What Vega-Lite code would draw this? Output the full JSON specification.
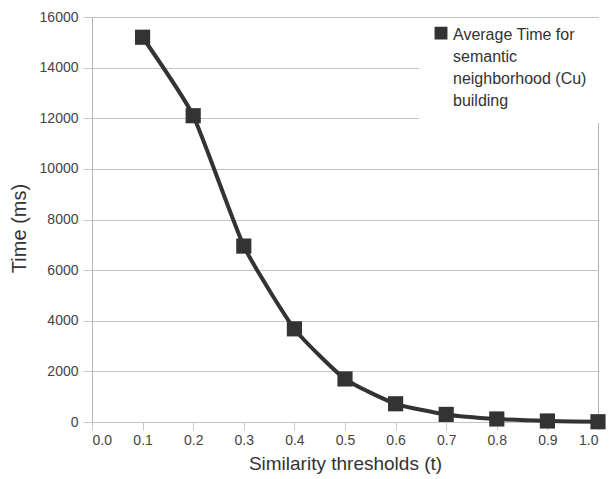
{
  "$schema": "https://vega.github.io/schema/vega-lite/v6.json",
  "width": 506,
  "height": 405,
  "autosize": {"type": "none"},
  "padding": {"left": 92, "top": 17, "right": 12, "bottom": 57},
  "background": "white",
  "data": {
    "values": [
      {"t": 0.1, "ms": 15200, "series": "Average Time for semantic neighborhood (Cu) building"},
      {"t": 0.2, "ms": 12100, "series": "Average Time for semantic neighborhood (Cu) building"},
      {"t": 0.3, "ms": 6950, "series": "Average Time for semantic neighborhood (Cu) building"},
      {"t": 0.4, "ms": 3680, "series": "Average Time for semantic neighborhood (Cu) building"},
      {"t": 0.5, "ms": 1700, "series": "Average Time for semantic neighborhood (Cu) building"},
      {"t": 0.6, "ms": 720, "series": "Average Time for semantic neighborhood (Cu) building"},
      {"t": 0.7, "ms": 300, "series": "Average Time for semantic neighborhood (Cu) building"},
      {"t": 0.8, "ms": 120, "series": "Average Time for semantic neighborhood (Cu) building"},
      {"t": 0.9, "ms": 40, "series": "Average Time for semantic neighborhood (Cu) building"},
      {"t": 1.0, "ms": 10, "series": "Average Time for semantic neighborhood (Cu) building"}
    ]
  },
  "encoding": {
    "x": {
      "field": "t",
      "type": "quantitative",
      "scale": {"domain": [0, 1], "nice": false, "zero": false},
      "axis": {
        "title": "Similarity thresholds (t)",
        "values": [0, 0.1, 0.2, 0.3, 0.4, 0.5, 0.6, 0.7, 0.8, 0.9, 1.0],
        "format": ".1f",
        "grid": false,
        "domain": false,
        "tickColor": "#c8c8c8",
        "tickSize": 8,
        "labelPadding": 3,
        "titleFontSize": 19,
        "titlePadding": 7
      }
    },
    "y": {
      "field": "ms",
      "type": "quantitative",
      "scale": {"domain": [0, 16000], "nice": false},
      "axis": {
        "title": "Time (ms)",
        "values": [0, 2000, 4000, 6000, 8000, 10000, 12000, 14000, 16000],
        "format": "d",
        "grid": true,
        "gridColor": "#c4c4c4",
        "domainColor": "#b4b4b4",
        "tickColor": "#c8c8c8",
        "tickSize": 9,
        "labelPadding": 5,
        "titleFontSize": 20,
        "titlePadding": 10,
        "titleY": 211
      }
    }
  },
  "layer": [
    {
      "mark": {"type": "line", "interpolate": "cardinal", "tension": 0.5, "color": "#333333", "strokeWidth": 4}
    },
    {
      "mark": {"type": "point", "shape": "square", "filled": true, "size": 230, "opacity": 1},
      "encoding": {
        "color": {
          "field": "series",
          "type": "nominal",
          "scale": {"range": ["#333333"]},
          "legend": {
            "title": null,
            "orient": "none",
            "legendX": 327,
            "legendY": 1,
            "fillColor": "white",
            "padding": 14,
            "symbolType": "M-1,-2.2H1V-0.2H-1Z",
            "symbolSize": 130,
            "symbolFillColor": "#333333",
            "symbolStrokeColor": "#333333",
            "labelBaseline": "alphabetic",
            "labelOffset": 4,
            "labelLimit": 300,
            "labelExpr": "['Average Time for', 'semantic', 'neighborhood (Cu)', 'building']"
          }
        }
      }
    }
  ],
  "config": {
    "view": {"stroke": "#b4b4b4"},
    "font": "Liberation Sans",
    "axis": {
      "labelFont": "Liberation Sans",
      "labelFontSize": 14,
      "labelColor": "#444444",
      "titleFont": "Liberation Sans",
      "titleFontSize": 18,
      "titleFontWeight": "normal",
      "titleColor": "#333333"
    },
    "legend": {
      "labelFont": "Liberation Sans",
      "labelFontSize": 16,
      "labelColor": "#333333"
    },
    "style": {"guide-label": {"lineHeight": 22}}
  }
}
